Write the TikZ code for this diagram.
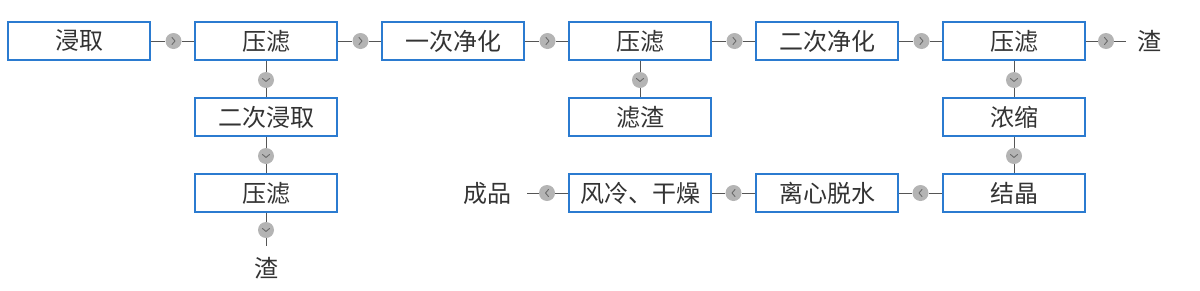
\documentclass[tikz,border=0pt]{standalone}
\usepackage{fontspec}
\newfontfamily\cjk{Noto Sans CJK SC}
\definecolor{boxblue}{HTML}{2B7BD0}
\definecolor{cgray}{HTML}{B4B4B4}
\definecolor{chevgray}{HTML}{6A6A6A}
\definecolor{linegray}{HTML}{555555}
\definecolor{txt}{HTML}{333333}
\begin{document}
\begin{tikzpicture}[x=1pt,y=-1pt,
  every node/.style={font=\cjk\fontsize{24pt}{26pt}\selectfont, text=txt},
  proc/.style={draw=boxblue, line width=1.2pt, fill=white, minimum width=142pt, minimum height=38pt, inner sep=0pt},
  lbl/.style={inner sep=0pt},
  conn/.style={draw=linegray, line width=1pt},
  chev/.style={draw=chevgray, line width=0.9pt, line cap=round, line join=round},
  dot/.style={circle, fill=cgray, minimum size=16pt, inner sep=0pt},
  goright/.style={dot, path picture={\draw[chev] ([xshift=-1.5pt,yshift=3.5pt]path picture bounding box.center) -- ++(3pt,-3.5pt) -- ++(-3pt,-3.5pt);}},
  goleft/.style={dot, path picture={\draw[chev] ([xshift=1.5pt,yshift=3.5pt]path picture bounding box.center) -- ++(-3pt,-3.5pt) -- ++(3pt,-3.5pt);}},
  godown/.style={dot, path picture={\draw[chev] ([xshift=-3.5pt,yshift=1.5pt]path picture bounding box.center) -- ++(3.5pt,-3pt) -- ++(3.5pt,3pt);}},
]
\useasboundingbox (0,0) rectangle (1200,290);
% row 1
\node[proc] (a1) at (79,41) {浸取};
\node[proc] (a2) at (266,41) {压滤};
\node[proc] (a3) at (453,41) {一次净化};
\node[proc] (a4) at (640,41) {压滤};
\node[proc] (a5) at (827,41) {二次净化};
\node[proc] (a6) at (1014,41) {压滤};
\node[lbl] (zr) at (1149,41) {渣};
% column under a2
\node[proc] (b2) at (266,117) {二次浸取};
\node[proc] (c2) at (266,193) {压滤};
\node[lbl] (zb) at (266,268) {渣};
% under a4
\node[proc] (b4) at (640,117) {滤渣};
% right column and bottom row
\node[proc] (b6) at (1014,117) {浓缩};
\node[proc] (c6) at (1014,193) {结晶};
\node[proc] (c5) at (827,193) {离心脱水};
\node[proc] (c4) at (640,193) {风冷、干燥};
\node[lbl] (cp) at (487,193) {成品};
% connector dots
\node[goright] (d12) at (173.5,41) {};
\node[goright] (d23) at (360.5,41) {};
\node[goright] (d34) at (547.5,41) {};
\node[goright] (d45) at (734.5,41) {};
\node[goright] (d56) at (921.5,41) {};
\node[goright] (d6z) at (1106,41) {};
\coordinate (e6z) at (1126,41);
\node[godown] (v2a) at (266,80) {};
\node[godown] (v2b) at (266,156) {};
\node[godown] (v2c) at (266,230) {};
\coordinate (e2c) at (266,246);
\node[godown] (v4) at (640,80) {};
\node[godown] (v6a) at (1014,80) {};
\node[godown] (v6b) at (1014,156) {};
\node[goleft] (l65) at (920.5,193) {};
\node[goleft] (l54) at (733.5,193) {};
\node[goleft] (l4c) at (547,193) {};
\coordinate (e4c) at (527,193);
% connectors
\draw[conn] (a1) -- (d12) -- (a2);
\draw[conn] (a2) -- (d23) -- (a3);
\draw[conn] (a3) -- (d34) -- (a4);
\draw[conn] (a4) -- (d45) -- (a5);
\draw[conn] (a5) -- (d56) -- (a6);
\draw[conn] (a6) -- (d6z) -- (e6z);
\draw[conn] (a2) -- (v2a) -- (b2);
\draw[conn] (b2) -- (v2b) -- (c2);
\draw[conn] (c2) -- (v2c) -- (e2c);
\draw[conn] (a4) -- (v4) -- (b4);
\draw[conn] (a6) -- (v6a) -- (b6);
\draw[conn] (b6) -- (v6b) -- (c6);
\draw[conn] (c6) -- (l65) -- (c5);
\draw[conn] (c5) -- (l54) -- (c4);
\draw[conn] (c4) -- (l4c) -- (e4c);
\end{tikzpicture}
\end{document}
